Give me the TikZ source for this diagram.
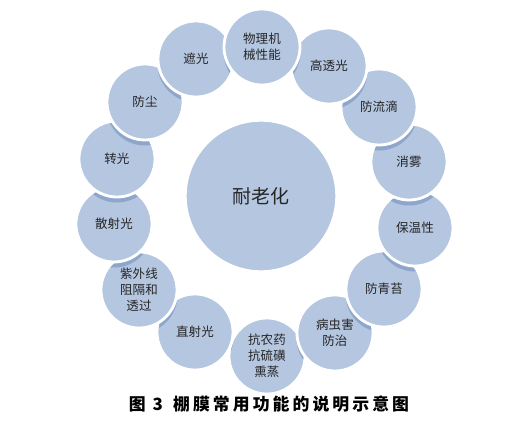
\documentclass[tikz,border=0pt]{standalone}
\usepackage{fontspec}
\usepackage{tikz}
\usetikzlibrary{calc}
\newfontfamily\cjk{Noto Sans CJK SC}
\newfontfamily\capfont[LetterSpace=18]{Noto Sans CJK SC}
\definecolor{bubfill}{RGB}{180,198,224}
\definecolor{bubdark}{RGB}{141,166,204}
\definecolor{txtgray}{RGB}{38,38,38}
\newcommand{\bubshadow}[2]{%
  \begin{scope}
    \clip (#2) circle (36.4);
    \fill[bubdark] ($(#1)+(0,5)$) circle (38.5);
  \end{scope}}

\begin{document}
\begin{tikzpicture}[x=0.025cm, y=-0.025cm, every node/.style={font=\cjk, text=txtgray},
  bub/.style={circle, fill=bubfill, draw=white, line width=2pt, minimum size=1.9cm,
    inner sep=0pt, align=center, font=\cjk\fontsize{8.9}{11.5}\selectfont}]
  \useasboundingbox (0,0) rectangle (522,426);
  \foreach \i/\x/\y in {0/262/47, 1/329/66, 2/379/107, 3/409/162, 4/415/228,
    5/384/289, 6/335/333, 7/267/356, 8/195/332, 9/139/290, 10/114/224,
    11/117/159, 12/145/102, 13/196/59}
    \coordinate (c\i) at (\x,\y);
  \node[bub, minimum size=3.75cm, line width=1pt, font=\cjk\fontsize{13.5}{16}\selectfont] (aging) at (261,196) {耐老化};
  \node[bub] (nongyao) at (c7) {抗农药\\抗硫磺\\熏蒸};
  \bubshadow{c6}{c7}
  \node[bub] (bingchong) at (c6) {病虫害\\防治};
  \bubshadow{c8}{c7}
  \node[bub] (zhishe) at (c8) {直射光};
  \bubshadow{c9}{c8}
  \node[bub] (ziwai) at (c9) {紫外线\\阻隔和\\透过};
  \bubshadow{c5}{c6}
  \node[bub] (qingtai) at (c5) {防青苔};
  \bubshadow{c4}{c5}
  \node[bub] (baowen) at (c4) {保温性};
  \bubshadow{c10}{c9}
  \node[bub] (sanshe) at (c10) {散射光};
  \bubshadow{c3}{c4}
  \node[bub] (xiaowu) at (c3) {消雾};
  \bubshadow{c11}{c10}
  \node[bub] (zhuanguang) at (c11) {转光};
  \bubshadow{c2}{c3}
  \node[bub] (liudi) at (c2) {防流滴};
  \bubshadow{c12}{c11}
  \node[bub] (fangchen) at (c12) {防尘};
  \bubshadow{c1}{c2}
  \node[bub] (gaotou) at (c1) {高透光};
  \bubshadow{c13}{c12}
  \node[bub] (zheguang) at (c13) {遮光};
  \bubshadow{c0}{c1}
  \bubshadow{c0}{c13}
  \node[bub] (jixie) at (c0) {物理机\\械性能};
  \node[text=black] (caption) at (269,404) {\capfont\bfseries\fontsize{12}{14}\selectfont 图 3\hspace{0.6em}棚膜常用功能的说明示意图};
\end{tikzpicture}
\end{document}
